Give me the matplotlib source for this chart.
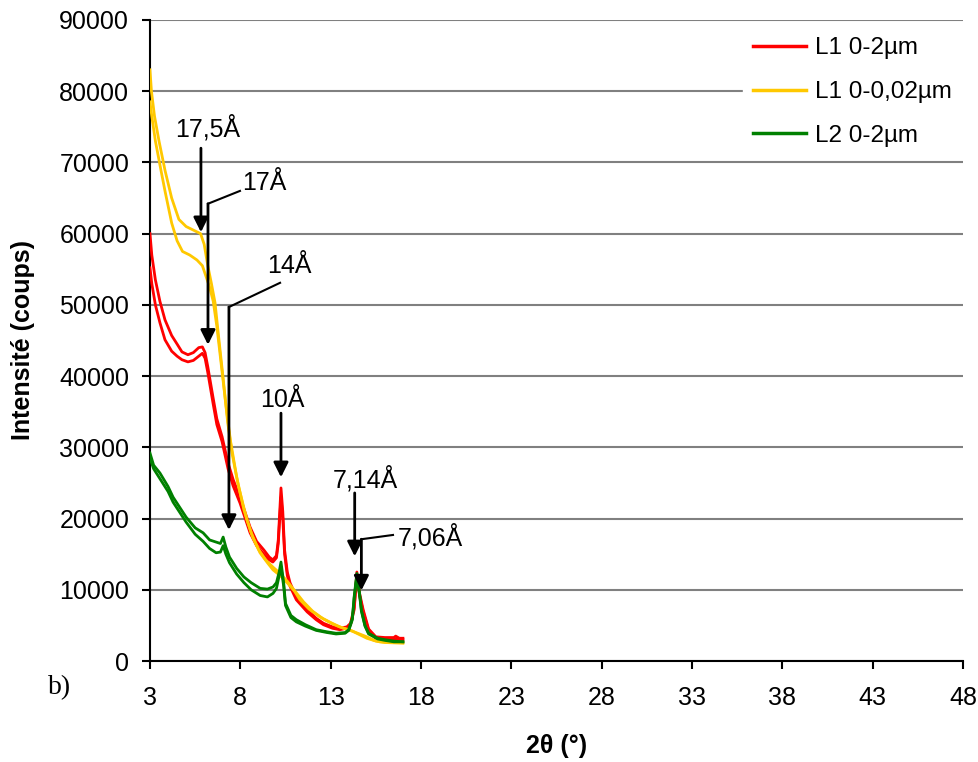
import matplotlib
matplotlib.use('Agg')
import matplotlib.pyplot as plt

plt.rcParams['font.family'] = ['Liberation Sans', 'DejaVu Sans']

# --- data (2theta in degrees, counts) ---
# L1 0-2um, two replicates
red_a_x = [3.0, 3.1, 3.3, 3.55, 3.83, 4.2, 4.5, 4.77, 5.1, 5.4, 5.7, 5.9, 6.05, 6.2, 6.49, 6.7,
           6.99, 7.32, 7.6, 7.98, 8.54, 8.9, 9.3, 9.6, 9.8, 10.0, 10.1, 10.25, 10.35, 10.45, 10.6,
           10.75, 11.1, 11.7, 12.2, 12.6, 13.1, 13.5, 13.9, 14.1, 14.3, 14.45, 14.6, 14.8, 15.1,
           15.5, 16.0, 16.5, 16.6, 16.8, 17.0]
red_a_y = [60000, 57000, 53500, 50500, 47900, 45700, 44500, 43400, 43000, 43300, 44000, 44100, 43300,
           41300, 37000, 34000, 31500, 27800, 25500, 23000, 18800, 16800, 15600, 14600, 14200, 14800,
           17000, 24300, 21000, 15600, 12500, 11000, 9000, 7200, 6000, 5300, 4800, 4600, 4800, 5300,
           7500, 12500, 9500, 7200, 4500, 3400, 3300, 3300, 3500, 3200, 3200]
red_b_x = [3.0, 3.1, 3.3, 3.55, 3.83, 4.2, 4.5, 4.77, 5.1, 5.4, 5.7, 5.9, 6.05, 6.2, 6.49, 6.7,
           6.99, 7.32, 7.6, 7.98, 8.54, 8.9, 9.3, 9.6, 9.8, 10.0, 10.1, 10.25, 10.35, 10.45, 10.6,
           10.75, 11.1, 11.7, 12.2, 12.6, 13.1, 13.5, 13.9, 14.1, 14.3, 14.45, 14.6, 14.8, 15.1,
           15.5, 16.0, 16.5, 17.0]
red_b_y = [55200, 53000, 50000, 47500, 45100, 43500, 42800, 42300, 42000, 42200, 42800, 43200, 42500,
           40500, 36200, 33200, 30800, 27000, 24600, 22200, 18000, 16200, 15000, 14200, 13900, 14500,
           16500, 23000, 20000, 15000, 12000, 10500, 8600, 6900, 5800, 5100, 4600, 4400, 4600, 5100,
           7200, 12000, 9200, 6900, 4300, 3200, 3100, 3100, 3000]

# L1 0-0,02um, two replicates
yel_a_x = [3.0, 3.08, 3.25, 3.5, 3.83, 4.2, 4.6, 5.0, 5.4, 5.8, 6.0, 6.2, 6.4, 6.6, 6.8, 7.04,
           7.3, 7.54, 7.9, 8.37, 8.7, 9.09, 9.5, 9.81, 10.2, 10.59, 11.0, 11.3, 11.8, 12.4, 13.0,
           13.5, 14.0, 14.3, 14.6, 15.0, 15.4, 15.7, 16.3, 17.0]
yel_a_y = [83000, 80000, 76500, 73000, 68900, 65000, 62000, 61000, 60500, 60000, 58500, 55500, 53000,
           50300, 45500, 39900, 33500, 29200, 24500, 19800, 17300, 15200, 13800, 12800, 12000, 11000,
           9800, 8600, 7300, 6200, 5400, 4800, 4400, 4100, 3800, 3400, 2900, 2700, 2600, 2600]
yel_b_x = [3.0, 3.1, 3.3, 3.6, 3.83, 4.2, 4.5, 4.8, 5.2, 5.6, 5.9, 6.1, 6.3, 6.5, 6.7, 6.95,
           7.2, 7.45, 7.8, 8.2, 8.6, 9.0, 9.4, 9.8, 10.2, 10.6, 11.0, 11.5, 12.0, 12.6, 13.2,
           13.7, 14.2, 14.6, 15.0, 15.5, 16.0, 17.0]
yel_b_y = [78500, 76500, 73000, 69000, 66000, 61500, 59000, 57500, 57000, 56300, 55500, 54000, 52500,
           50500, 47000, 41500, 36000, 31000, 25800, 21200, 18000, 15700, 14200, 13200, 12300, 11200,
           9900, 8300, 7000, 5900, 5100, 4600, 4200, 3700, 3200, 2800, 2600, 2500]

# L2 0-2um, two replicates
grn_x = [3.0, 3.2, 3.55, 4.0, 4.28, 5.0, 5.5, 5.94, 6.3, 6.66, 6.9, 7.05, 7.2, 7.4, 7.8, 8.2,
         8.6, 9.1, 9.5, 9.81, 10.0, 10.15, 10.25, 10.4, 10.5, 10.8, 11.1, 11.6, 12.2, 12.8, 13.3,
         13.8, 14.0, 14.2, 14.3, 14.45, 14.6, 14.7, 14.9, 15.1, 15.6, 16.0, 16.5, 17.0]
grn_a_y = [29200, 27500, 26400, 24500, 23000, 20200, 18700, 18000, 17000, 16700, 16500, 17400, 16000,
           14600, 13000, 11800, 11000, 10200, 10100, 10400, 11000, 12500, 13900, 11000, 8100, 6400,
           5800, 5100, 4400, 4100, 3900, 4000, 4400, 6000, 9000, 12300, 9500, 7200, 5000, 3900,
           3200, 3000, 2800, 2700]
grn_b_y = [28500, 27000, 25600, 23800, 22300, 19500, 17800, 16800, 15800, 15200, 15300, 16200, 15000,
           13800, 12200, 11000, 10000, 9200, 9000, 9500, 10200, 12000, 13200, 10500, 7800, 6100,
           5500, 4900, 4300, 4000, 3800, 3900, 4300, 5800, 8800, 12000, 9300, 7000, 4900, 3800,
           3100, 2900, 2700, 2700]

series_labels = ['L1 0-2µm', 'L1 0-0,02µm', 'L2 0-2µm']
series_colors = ['#ff0000', '#ffc800', '#008000']

x_ticks = [3, 8, 13, 18, 23, 28, 33, 38, 43, 48]
y_ticks = [0, 10000, 20000, 30000, 40000, 50000, 60000, 70000, 80000, 90000]

# peak labels (text, text x, text baseline y, arrow x, arrow start y, arrow tip y)
straight_arrows = [
    ('17,5Å', 6.21, 73570, 5.82, 72000, 60200),
    ('10Å', 10.31, 35700, 10.25, 34800, 25800),
    ('7,14Å', 14.9, 24400, 14.33, 23600, 14700),
]
# elbow labels (text, text left x, baseline y, leader start x, y, elbow x, y, arrow tip y)
elbow_arrows = [
    ('17Å', 8.09, 66100, 7.98, 66000, 6.21, 64200, 44400),
    ('14Å', 9.48, 54500, 10.2, 53100, 7.37, 49700, 18400),
    ('7,06Å', 16.73, 16150, 16.45, 17700, 14.7, 17100, 9900),
]

fs = 18

fig = plt.figure(figsize=(9.79, 7.62), dpi=100)
ax = fig.add_axes([0.1532, 0.1325, 0.8305, 0.8413])

lw = 2.0
ax.plot(red_a_x, red_a_y, color=series_colors[0], lw=lw, label=series_labels[0], zorder=3)
ax.plot(red_b_x, red_b_y, color=series_colors[0], lw=lw, zorder=3)
ax.plot(yel_a_x, yel_a_y, color=series_colors[1], lw=lw, label=series_labels[1], zorder=4)
ax.plot(yel_b_x, yel_b_y, color=series_colors[1], lw=lw, zorder=4)
ax.plot(grn_x, grn_a_y, color=series_colors[2], lw=lw, label=series_labels[2], zorder=5)
ax.plot(grn_x, grn_b_y, color=series_colors[2], lw=lw, zorder=5)

ax.set_xlim(3, 48)
ax.set_ylim(0, 90000)
ax.set_xticks(x_ticks)
ax.set_yticks(y_ticks)
ax.tick_params(axis='both', direction='out', length=6, width=1.5, labelsize=fs, colors='black')
ax.tick_params(axis='y', pad=9)
ax.tick_params(axis='x', pad=12)
ax.yaxis.grid(True, color='#808080', lw=1.5, zorder=0)
ax.set_axisbelow(True)
for side in ['top', 'right']:
    ax.spines[side].set_visible(False)
for side in ['left', 'bottom']:
    ax.spines[side].set_linewidth(1.5)

ax.set_xlabel('2θ (°)', fontsize=fs, fontweight='bold', va='center')
ax.set_ylabel('Intensité (coups)', fontsize=fs, fontweight='bold', va='center')
ax.xaxis.set_label_coords(0.5, -0.1326)
ax.yaxis.set_label_coords(-0.156, 0.5)

arrow_kw = dict(arrowstyle='-|>', color='black', lw=2, mutation_scale=22, shrinkA=0, shrinkB=0)
for txt, tx, ty, axx, y0, y1 in straight_arrows:
    ax.text(tx, ty, txt, fontsize=fs, ha='center', va='baseline', zorder=7)
    ax.annotate('', xy=(axx, y1), xytext=(axx, y0), arrowprops=arrow_kw, zorder=7)
for txt, tx, ty, lx0, ly0, lx1, ly1, y1 in elbow_arrows:
    ax.text(tx, ty, txt, fontsize=fs, ha='left', va='baseline', zorder=7)
    ax.plot([lx0, lx1], [ly0, ly1], color='black', lw=1.5, zorder=7)
    ax.annotate('', xy=(lx1, y1), xytext=(lx1, ly1), arrowprops=arrow_kw, zorder=7)

leg = ax.legend(loc='upper left', bbox_to_anchor=(0.759, 0.5, 0.228, 0.464),
                bbox_transform=fig.transFigure, mode='expand',
                frameon=True, fancybox=False, framealpha=1, edgecolor='white', facecolor='white',
                fontsize=17.5, handlelength=2.2, handletextpad=0.35, labelspacing=0.9,
                borderpad=0.4, borderaxespad=0)
for line in leg.get_lines():
    line.set_linewidth(2.5)

fig.text(0.0613, 0.0970, 'b)', fontsize=20, family='Liberation Serif', ha='center', va='center')

fig.savefig('out.png', dpi=100)
